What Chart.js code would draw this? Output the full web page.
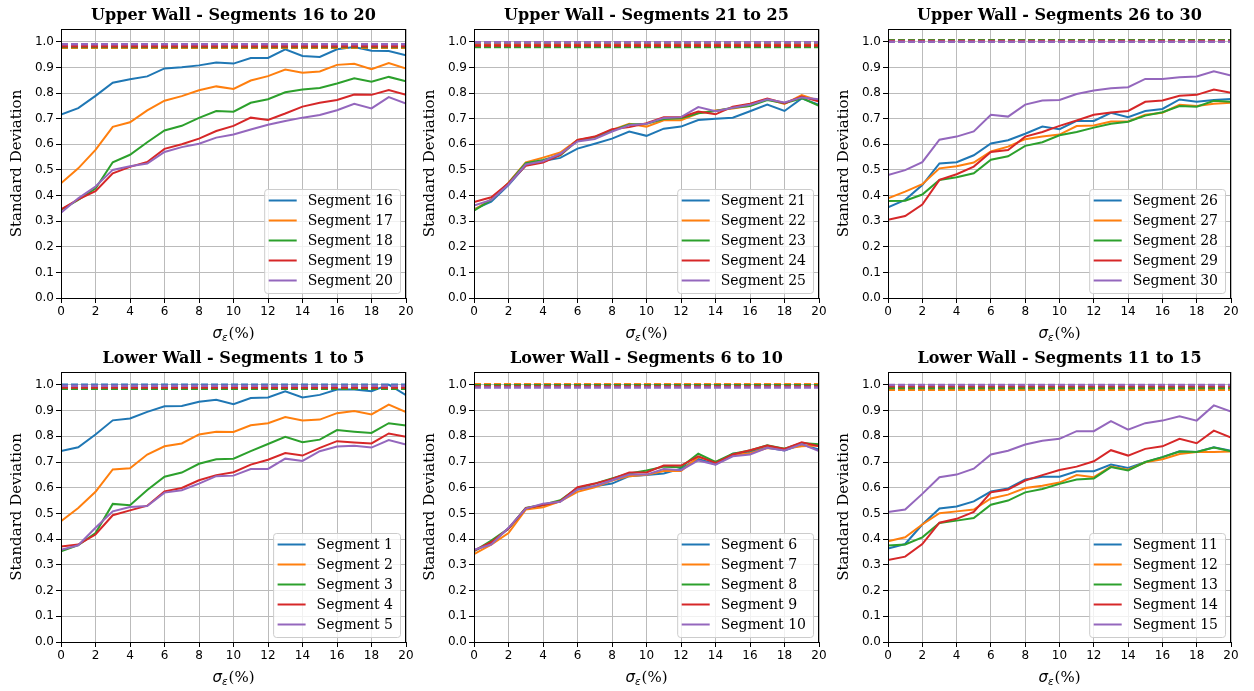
<!DOCTYPE html>
<html>
<head>
<meta charset="utf-8">
<script src="https://cdn.jsdelivr.net/npm/chart.js@4.4.1/dist/chart.umd.min.js"></script>
<style>
body { margin: 0; background: #fff; width: 1254px; height: 691px; position: relative; overflow: hidden; }
canvas { position: absolute; }
</style>
</head>
<body>
<canvas id="p1"></canvas>
<canvas id="p2"></canvas>
<canvas id="p3"></canvas>
<canvas id="p4"></canvas>
<canvas id="p5"></canvas>
<canvas id="p6"></canvas>
<script>
// noise level sigma_eps in %
const sigma = [0, 1, 2, 3, 4, 5, 6, 7, 8, 9, 10, 11, 12, 13, 14, 15, 16, 17, 18, 19, 20];
const yTicks = [0, 0.1, 0.2, 0.3, 0.4, 0.5, 0.6, 0.7, 0.8, 0.9, 1.0];

// upper wall
const seg16 = [0.716,0.741,0.789,0.840,0.854,0.865,0.896,0.901,0.908,0.919,0.915,0.937,0.937,0.971,0.945,0.941,0.971,0.980,0.965,0.964,0.947];
const seg17 = [0.448,0.506,0.578,0.668,0.686,0.732,0.770,0.788,0.811,0.826,0.816,0.849,0.866,0.892,0.879,0.884,0.910,0.914,0.893,0.917,0.896];
const seg18 = [0.344,0.383,0.427,0.530,0.559,0.608,0.654,0.672,0.703,0.730,0.727,0.762,0.776,0.803,0.814,0.820,0.837,0.858,0.844,0.863,0.846];
const seg19 = [0.346,0.385,0.417,0.487,0.512,0.531,0.582,0.600,0.622,0.652,0.672,0.704,0.695,0.720,0.747,0.762,0.773,0.794,0.793,0.812,0.793];
const seg20 = [0.333,0.389,0.435,0.500,0.514,0.525,0.570,0.589,0.602,0.626,0.638,0.658,0.676,0.691,0.704,0.714,0.733,0.758,0.740,0.784,0.759];

const seg21 = [0.346,0.376,0.441,0.518,0.535,0.547,0.583,0.602,0.622,0.650,0.633,0.661,0.669,0.695,0.700,0.704,0.729,0.755,0.730,0.779,0.754];
const seg22 = [0.344,0.385,0.450,0.529,0.548,0.568,0.617,0.628,0.656,0.680,0.669,0.694,0.694,0.721,0.732,0.740,0.750,0.777,0.758,0.792,0.770];
const seg23 = [0.341,0.383,0.448,0.526,0.539,0.557,0.615,0.628,0.654,0.677,0.680,0.699,0.702,0.721,0.730,0.743,0.749,0.773,0.760,0.780,0.750];
const seg24 = [0.375,0.393,0.448,0.516,0.529,0.559,0.617,0.630,0.659,0.667,0.682,0.706,0.706,0.728,0.717,0.747,0.758,0.779,0.760,0.786,0.767];
const seg25 = [0.361,0.383,0.443,0.521,0.534,0.563,0.611,0.621,0.650,0.674,0.680,0.703,0.706,0.745,0.729,0.743,0.754,0.776,0.763,0.783,0.776];

const seg26 = [0.354,0.383,0.441,0.525,0.530,0.557,0.603,0.616,0.641,0.669,0.659,0.691,0.691,0.723,0.706,0.730,0.738,0.775,0.766,0.773,0.777];
const seg27 = [0.389,0.415,0.444,0.506,0.514,0.529,0.572,0.591,0.620,0.630,0.638,0.671,0.673,0.689,0.689,0.715,0.723,0.754,0.749,0.758,0.762];
const seg28 = [0.379,0.380,0.404,0.461,0.471,0.487,0.540,0.553,0.594,0.608,0.635,0.648,0.665,0.680,0.688,0.712,0.725,0.749,0.747,0.770,0.766];
const seg29 = [0.305,0.320,0.365,0.461,0.483,0.513,0.570,0.578,0.630,0.648,0.672,0.693,0.715,0.724,0.730,0.766,0.771,0.789,0.793,0.814,0.801];
const seg30 = [0.480,0.499,0.530,0.618,0.630,0.650,0.715,0.708,0.755,0.771,0.773,0.796,0.810,0.819,0.823,0.855,0.855,0.862,0.865,0.885,0.868];

// lower wall
const seg1 = [0.743,0.757,0.807,0.862,0.869,0.895,0.917,0.918,0.934,0.942,0.925,0.949,0.951,0.975,0.951,0.961,0.982,0.982,0.975,1.001,0.960];
const seg2 = [0.470,0.521,0.584,0.671,0.676,0.729,0.761,0.772,0.807,0.818,0.817,0.843,0.851,0.875,0.861,0.865,0.890,0.898,0.885,0.923,0.894];
const seg3 = [0.353,0.377,0.424,0.537,0.532,0.591,0.643,0.659,0.693,0.711,0.713,0.742,0.770,0.798,0.777,0.787,0.824,0.818,0.813,0.851,0.842];
const seg4 = [0.371,0.379,0.418,0.493,0.512,0.530,0.586,0.599,0.629,0.649,0.660,0.690,0.709,0.735,0.725,0.755,0.781,0.776,0.772,0.811,0.798];
const seg5 = [0.359,0.376,0.444,0.508,0.525,0.529,0.581,0.590,0.616,0.645,0.647,0.673,0.673,0.713,0.704,0.742,0.760,0.763,0.756,0.785,0.768];

const seg6 = [0.355,0.385,0.441,0.519,0.532,0.547,0.593,0.606,0.616,0.645,0.649,0.655,0.674,0.712,0.691,0.732,0.739,0.755,0.745,0.768,0.748];
const seg7 = [0.342,0.379,0.424,0.515,0.524,0.547,0.584,0.602,0.628,0.645,0.650,0.665,0.665,0.719,0.700,0.726,0.734,0.754,0.752,0.761,0.764];
const seg8 = [0.353,0.394,0.441,0.521,0.534,0.551,0.599,0.616,0.636,0.655,0.667,0.682,0.680,0.732,0.700,0.732,0.745,0.765,0.752,0.774,0.769];
const seg9 = [0.355,0.388,0.441,0.520,0.533,0.547,0.602,0.616,0.634,0.659,0.659,0.686,0.686,0.722,0.696,0.729,0.746,0.764,0.751,0.777,0.761];
const seg10 = [0.359,0.379,0.444,0.519,0.538,0.545,0.593,0.607,0.629,0.651,0.651,0.673,0.668,0.706,0.690,0.722,0.729,0.755,0.745,0.770,0.742];

const seg11 = [0.363,0.381,0.457,0.519,0.527,0.547,0.585,0.597,0.632,0.643,0.643,0.664,0.664,0.690,0.677,0.699,0.719,0.742,0.739,0.757,0.744];
const seg12 = [0.392,0.407,0.457,0.501,0.508,0.515,0.558,0.573,0.599,0.608,0.620,0.649,0.641,0.682,0.670,0.699,0.711,0.731,0.739,0.739,0.741];
const seg13 = [0.375,0.379,0.407,0.463,0.472,0.482,0.534,0.550,0.582,0.595,0.615,0.632,0.636,0.680,0.667,0.700,0.719,0.741,0.739,0.756,0.742];
const seg14 = [0.319,0.332,0.381,0.464,0.479,0.506,0.582,0.593,0.628,0.649,0.669,0.682,0.703,0.746,0.725,0.751,0.761,0.790,0.773,0.822,0.795];
const seg15 = [0.506,0.515,0.576,0.641,0.651,0.674,0.729,0.744,0.768,0.783,0.790,0.820,0.820,0.859,0.826,0.851,0.861,0.878,0.861,0.920,0.896];

// dashed reference levels, one per segment
const ref16to20 = [0.985, 0.977, 0.980, 0.983, 0.990];
const ref21to25 = [0.993, 0.989, 0.980, 0.986, 0.998];
const ref26to30 = [1.004, 1.005, 1.006, 1.003, 1.000];
const ref1to5 = [1.000, 0.994, 0.985, 0.990, 0.997];
const ref6to10 = [0.996, 1.002, 0.998, 0.994, 0.990];
const ref11to15 = [0.994, 0.981, 0.988, 0.995, 0.999];

const colors = ['#1f77b4', '#ff7f0e', '#2ca02c', '#d62728', '#9467bd'];

Chart.defaults.font.family = "'DejaVu Sans'";
Chart.defaults.font.size = 12;
Chart.defaults.color = '#000';

// title, axis labels, frame and matplotlib-like legend
const panelText = {
  id: 'panelText',
  afterDraw(chart, args, opts) {
    const ctx = chart.ctx;
    const a = chart.chartArea;
    ctx.save();
    ctx.strokeStyle = '#000';
    ctx.lineWidth = 1;
    ctx.strokeRect(Math.round(a.left) + 0.5, Math.round(a.top) + 0.5,
      Math.round(a.right - a.left) - 1, Math.round(a.bottom - a.top));

    const cx = (a.left + a.right) / 2;
    ctx.fillStyle = '#000';
    ctx.textAlign = 'center';
    ctx.textBaseline = 'alphabetic';
    ctx.font = "bold 16px 'DejaVu Serif'";
    ctx.fillText(opts.title, cx, a.top - 9);

    // y label
    ctx.save();
    ctx.translate(a.left - 44, (a.top + a.bottom) / 2);
    ctx.rotate(-Math.PI / 2);
    ctx.textBaseline = 'middle';
    ctx.font = "15px 'DejaVu Serif'";
    ctx.fillText('Standard Deviation', 0, 0);
    ctx.restore();

    // x label: sigma_eps (%)
    const f1 = "italic 15px 'DejaVu Sans'";
    const f2 = "italic 10.5px 'DejaVu Sans'";
    const f3 = "15px 'DejaVu Serif'";
    ctx.textAlign = 'left';
    ctx.font = f1; const w1 = ctx.measureText('σ').width;
    ctx.font = f2; const w2 = ctx.measureText('ε').width;
    ctx.font = f3; const w3 = ctx.measureText('(%)').width;
    let x = cx - (w1 + w2 + 1 + w3) / 2;
    const by = a.bottom + 40;
    ctx.font = f1; ctx.fillText('σ', x, by); x += w1;
    ctx.font = f2; ctx.fillText('ε', x, by + 3); x += w2 + 1;
    ctx.font = f3; ctx.fillText('(%)', x, by);

    // legend
    const items = chart.data.datasets.filter(d => !d.isRef);
    ctx.font = "14px 'DejaVu Serif'";
    const tw = Math.max(...items.map(d => ctx.measureText(d.label).width));
    const bw = 4.5 + 28 + 11 + tw + 7;
    const bh = items.length * 20 + 4;
    const bx = a.right - 6 - bw;
    const byy = a.bottom - 5 - bh;
    ctx.beginPath();
    ctx.roundRect(bx + 0.5, byy + 0.5, bw, bh, 3);
    ctx.fillStyle = 'rgba(255,255,255,0.8)';
    ctx.fill();
    ctx.strokeStyle = '#cccccc';
    ctx.stroke();
    ctx.textBaseline = 'middle';
    items.forEach((d, i) => {
      const ly = byy + 11.5 + i * 20;
      ctx.strokeStyle = d.borderColor;
      ctx.lineWidth = 2;
      ctx.beginPath();
      ctx.moveTo(bx + 4.5, ly);
      ctx.lineTo(bx + 32.5, ly);
      ctx.stroke();
      ctx.fillStyle = '#000';
      ctx.fillText(d.label, bx + 43.5, ly + 1);
    });
    ctx.restore();
  }
};

function makePanel(id, title, names, series, refs, box) {
  const canvas = document.getElementById(id);
  canvas.style.left = (box.l - 61) + 'px';
  canvas.style.top = (box.t - 30) + 'px';
  canvas.width = box.r - box.l + 61 + 14;
  canvas.height = box.b - box.t + 30 + 46;

  const datasets = [];
  series.forEach((vals, i) => {
    datasets.push({
      label: 'Segment ' + names[i],
      data: sigma.map((s, k) => ({ x: s, y: vals[k] })),
      borderColor: colors[i],
      borderWidth: 2,
      order: 20 - i
    });
  });
  refs.forEach((r, i) => {
    datasets.push({
      label: 'ref ' + names[i],
      isRef: true,
      data: [{ x: sigma[0], y: r }, { x: sigma[sigma.length - 1], y: r }],
      borderColor: colors[i],
      borderWidth: 2.5,
      borderDash: [7, 3],
      order: 10 - i
    });
  });

  new Chart(canvas, {
    type: 'line',
    data: { datasets: datasets },
    options: {
      responsive: false,
      animation: false,
      devicePixelRatio: 1,
      layout: { padding: { top: 30, right: 14, left: 0, bottom: 0 } },
      elements: { point: { radius: 0 }, line: { tension: 0 } },
      plugins: {
        legend: { display: false },
        tooltip: { enabled: false },
        panelText: { title: title }
      },
      scales: {
        x: {
          type: 'linear',
          min: 0,
          max: 20,
          ticks: { stepSize: 2, padding: 2, maxRotation: 0, color: '#000' },
          grid: { color: '#bbbbbb', tickColor: '#000', tickLength: 5 },
          border: { color: '#000' },
          afterFit(s) { s.height = 46; }
        },
        y: {
          min: 0,
          max: 1.05,
          afterBuildTicks(s) { s.ticks = yTicks.map(v => ({ value: v })); },
          ticks: { padding: 2, color: '#000', callback: v => v.toFixed(1) },
          grid: { color: '#bbbbbb', tickColor: '#000', tickLength: 5 },
          border: { color: '#000' },
          afterFit(s) { s.width = 61; }
        }
      }
    },
    plugins: [panelText]
  });
}

makePanel('p1', 'Upper Wall - Segments 16 to 20', [16, 17, 18, 19, 20],
  [seg16, seg17, seg18, seg19, seg20], ref16to20, { l: 61, t: 29, r: 406, b: 298 });
makePanel('p2', 'Upper Wall - Segments 21 to 25', [21, 22, 23, 24, 25],
  [seg21, seg22, seg23, seg24, seg25], ref21to25, { l: 474, t: 29, r: 819, b: 298 });
makePanel('p3', 'Upper Wall - Segments 26 to 30', [26, 27, 28, 29, 30],
  [seg26, seg27, seg28, seg29, seg30], ref26to30, { l: 888, t: 29, r: 1231, b: 298 });
makePanel('p4', 'Lower Wall - Segments 1 to 5', [1, 2, 3, 4, 5],
  [seg1, seg2, seg3, seg4, seg5], ref1to5, { l: 61, t: 372, r: 406, b: 642 });
makePanel('p5', 'Lower Wall - Segments 6 to 10', [6, 7, 8, 9, 10],
  [seg6, seg7, seg8, seg9, seg10], ref6to10, { l: 474, t: 372, r: 819, b: 642 });
makePanel('p6', 'Lower Wall - Segments 11 to 15', [11, 12, 13, 14, 15],
  [seg11, seg12, seg13, seg14, seg15], ref11to15, { l: 888, t: 372, r: 1231, b: 642 });
</script>
</body>
</html>
